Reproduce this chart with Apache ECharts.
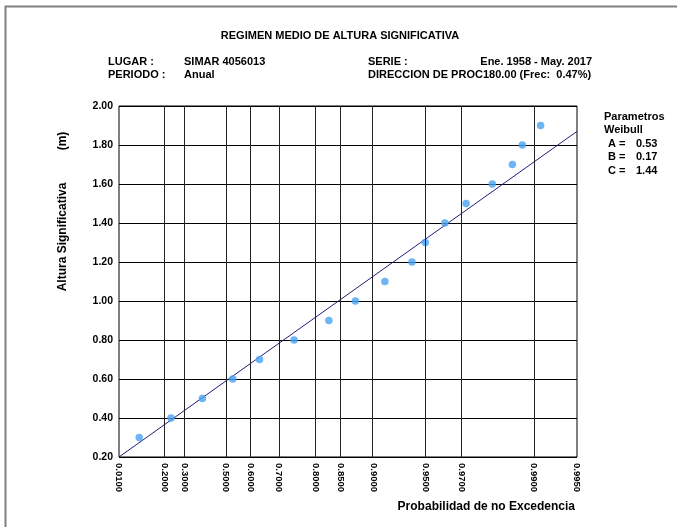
<!DOCTYPE html>
<html>
<head>
    <meta charset="utf-8">
    <title>Regimen medio</title>
    <script src="https://cdnjs.cloudflare.com/ajax/libs/echarts/6.0.0/echarts.min.js"></script>
    <style>
        body { margin: 0; background: #fff; }
    </style>
</head>
<body>
    <div id="main" style="width: 677px;height:527px;"></div>
    <script type="text/javascript">
        // parametros Weibull
        var paramA = 0.53, paramB = 0.17, paramC = 1.44;
        // etiquetas del eje x (probabilidad de no excedencia)
        var probTicks = [0.01, 0.2, 0.3, 0.5, 0.6, 0.7, 0.8, 0.85, 0.9, 0.95, 0.97, 0.99, 0.995];
        var probLabels = ['0.0100', '0.2000', '0.3000', '0.5000', '0.6000', '0.7000', '0.8000',
                          '0.8500', '0.9000', '0.9500', '0.9700', '0.9900', '0.9950'];
        // puntos observados
        var pointProb = [0.081, 0.233, 0.390, 0.529, 0.635, 0.745, 0.828, 0.875, 0.914,
                         0.940, 0.950, 0.962, 0.972, 0.981, 0.986, 0.988, 0.991];
        var pointHs = [0.3, 0.4, 0.5, 0.6, 0.7, 0.8, 0.9, 1.0, 1.1,
                       1.2, 1.3, 1.4, 1.5, 1.6, 1.7, 1.8, 1.9];
        // recta de ajuste
        var lineProb = [0.01, 0.995];
        var lineHs = [0.20, 1.87];

        // escala Weibull del eje x
        function tx(p) { return Math.pow(-Math.log(1 - p), 1 / paramC); }

        var tickT = probTicks.map(tx);
        var font = '"Liberation Sans", Arial, sans-serif';

        function label(x, y, text, align, size) {
            return {
                type: 'text', x: x, y: y, silent: true,
                style: {
                    text: text, fill: '#000', font: 'bold ' + (size || 11) + 'px ' + font,
                    textAlign: align || 'left', textVerticalAlign: 'middle'
                }
            };
        }

        var myChart = echarts.init(document.getElementById('main'));
        var option = {
            animation: false,
            backgroundColor: '#fff',
            grid: {
                left: 119, right: 100, top: 106, bottom: 70,
                show: true, borderColor: '#000', borderWidth: 1
            },
            xAxis: {
                type: 'value',
                min: tickT[0],
                max: tickT[tickT.length - 1],
                axisLine: { show: false },
                axisTick: { show: false },
                splitLine: { show: false },
                axisLabel: {
                    customValues: tickT,
                    rotate: -90,
                    margin: 6,
                    color: '#000',
                    fontWeight: 'bold',
                    fontSize: 9.5,
                    fontFamily: font,
                    formatter: function (v) {
                        var best = 0;
                        tickT.forEach(function (t, i) {
                            if (Math.abs(t - v) < Math.abs(tickT[best] - v)) best = i;
                        });
                        return probLabels[best];
                    }
                }
            },
            yAxis: {
                type: 'value',
                min: 0.2,
                max: 2.0,
                interval: 0.2,
                axisLine: { show: false },
                axisTick: { show: false },
                splitLine: { lineStyle: { color: '#000', width: 1 } },
                axisLabel: {
                    color: '#000',
                    fontWeight: 'bold',
                    fontSize: 10.5,
                    fontFamily: font,
                    margin: 6,
                    verticalAlign: 'middle',
                    padding: [0, 0, 6, 0],
                    formatter: function (v) { return v.toFixed(2); }
                }
            },
            series: [{
                type: 'line',
                silent: true,
                data: [],
                markLine: {
                    silent: true,
                    symbol: ['none', 'none'],
                    label: { show: false },
                    lineStyle: { color: '#222', type: 'solid', width: 1 },
                    data: tickT.slice(1, -1).map(function (t) { return { xAxis: t }; })
                }
            }, {
                type: 'line',
                silent: true,
                showSymbol: false,
                lineStyle: { color: '#1f1f78', width: 1 },
                data: lineProb.map(function (p, i) { return [tx(p), lineHs[i]]; }),
                z: 3
            }, {
                type: 'scatter',
                silent: true,
                symbolSize: 7.5,
                itemStyle: { color: '#4aa2f2' },
                data: pointProb.map(function (p, i) { return [tx(p), pointHs[i]]; }),
                z: 4
            }],
            graphic: [
                {
                    type: 'rect', silent: true,
                    shape: { x: 5.5, y: 6.5, width: 720, height: 600 },
                    style: { fill: 'none', stroke: '#808080', lineWidth: 2 }
                },
                label(340, 36, 'REGIMEN MEDIO DE ALTURA SIGNIFICATIVA', 'center'),
                label(108, 62, 'LUGAR :'),
                label(184, 62, 'SIMAR 4056013'),
                label(368, 62, 'SERIE :'),
                label(592, 62, 'Ene. 1958 - May. 2017', 'right'),
                label(108, 75, 'PERIODO :'),
                label(184, 75, 'Anual'),
                label(368, 75, 'DIRECCION DE PROC180.00 (Frec:  0.47%)'),
                label(604, 117, 'Parametros'),
                label(604, 130, 'Weibull'),
                label(608, 144, 'A ='),
                label(636, 144, paramA.toFixed(2)),
                label(608, 157, 'B ='),
                label(636, 157, paramB.toFixed(2)),
                label(608, 171, 'C ='),
                label(636, 171, paramC.toFixed(2)),
                label(575, 507, 'Probabilidad de no Excedencia', 'right', 12),
                {
                    type: 'text', x: 63, y: 237, rotation: Math.PI / 2, silent: true,
                    style: {
                        text: 'Altura Significativa', fill: '#000', font: 'bold 12px ' + font,
                        textAlign: 'center', textVerticalAlign: 'middle'
                    }
                },
                {
                    type: 'text', x: 63, y: 141, rotation: Math.PI / 2, silent: true,
                    style: {
                        text: '(m)', fill: '#000', font: 'bold 12px ' + font,
                        textAlign: 'center', textVerticalAlign: 'middle'
                    }
                }
            ]
        };
        myChart.setOption(option);
    </script>
</body>
</html>
